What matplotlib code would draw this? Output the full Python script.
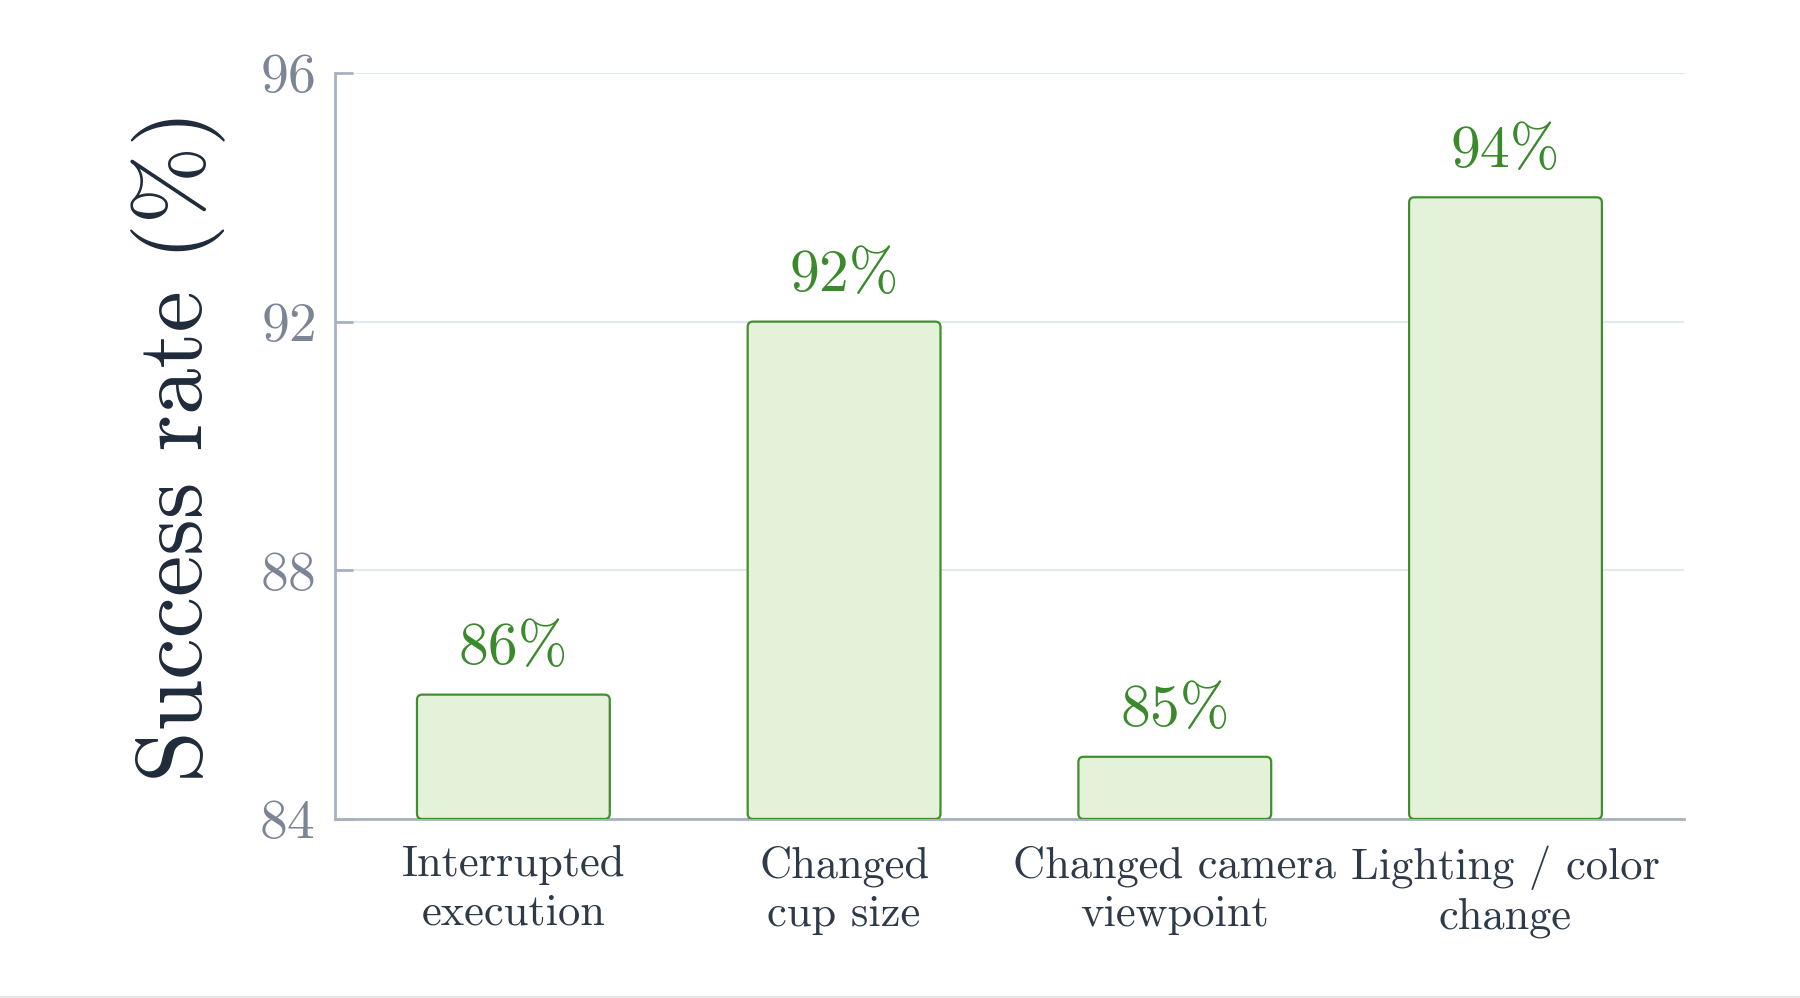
import matplotlib
matplotlib.use("Agg")
import matplotlib.pyplot as plt
from matplotlib.patches import FancyBboxPatch
from matplotlib.lines import Line2D

categories = ["Interrupted\nexecution", "Changed\ncup size",
              "Changed camera\nviewpoint", "Lighting / color\nchange"]
success = [86, 92, 85, 94]
yticks = [84, 88, 92, 96]
ylabel = "Success rate (%)"

plt.rcParams['font.family'] = ['cmr10', 'DejaVu Serif']
plt.rcParams['mathtext.fontset'] = 'cm'
plt.rcParams['axes.formatter.use_mathtext'] = True

fig = plt.figure(figsize=(18, 9.98), dpi=100)
ax = fig.add_axes([0.186, 0.1794, 0.7496, 0.7475])

GREEN_EDGE = "#3f8f2f"
GREEN_FILL = "#e4f2da"
GREEN_TEXT = "#3a8a2c"
TICK_GRAY = "#7b8596"
SPINE = "#a7b1bf"
GRID = "#e3e8ee"

x = list(range(len(categories)))
bars = ax.bar(x, [v - yticks[0] for v in success], bottom=yticks[0], width=0.583,
              color="none", edgecolor="none")
for b, v in zip(bars, success):
    x0, y0 = b.get_x(), b.get_y()
    w, h = b.get_width(), b.get_height()
    p = FancyBboxPatch((x0, y0), w, h,
                       boxstyle="round,pad=0,rounding_size=0.016",
                       mutation_aspect=5.3,
                       facecolor=GREEN_FILL, edgecolor=GREEN_EDGE, linewidth=1.6,
                       zorder=3)
    ax.add_patch(p)
    ax.annotate(f"{v}%", (x0 + w / 2, y0 + h), xytext=(0, 22),
                textcoords="offset points", ha="center", va="baseline",
                fontsize=43, color=GREEN_TEXT, zorder=4)

ax.set_xlim(-0.54, 3.54)
ax.set_ylim(yticks[0], yticks[-1])
ax.set_yticks(yticks)
ax.set_xticks(x)
ax.set_xticklabels(categories, fontsize=32, color="#2e3a48", linespacing=1.25)
ax.tick_params(axis='x', length=0, pad=19)
ax.tick_params(axis='y', direction='in', length=13, width=2, color=SPINE,
               labelsize=40, labelcolor=TICK_GRAY, pad=14)
ax.grid(axis='y', color=GRID, linewidth=1.5, zorder=0)
ax.set_axisbelow(True)
for s in ['top', 'right']:
    ax.spines[s].set_visible(False)
for s in ['left', 'bottom']:
    ax.spines[s].set_color(SPINE)
    ax.spines[s].set_linewidth(2)

ax.set_ylabel(ylabel, fontsize=67, color="#1f2b3a")
ax.yaxis.set_label_coords(-0.081, 0.5)

fig.add_artist(Line2D([0, 1], [0.0015, 0.0015], transform=fig.transFigure,
                      color="#e2e2e2", linewidth=2))

fig.savefig("out.png", dpi=100, facecolor="white")
